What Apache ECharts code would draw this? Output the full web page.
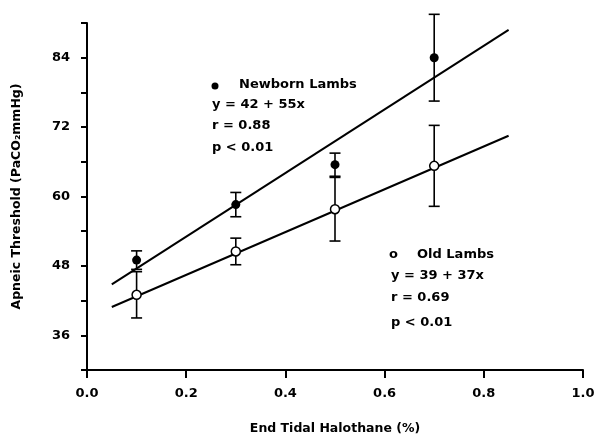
<!DOCTYPE html>
<html>
<head>
<meta charset="utf-8">
<script src="https://cdn.jsdelivr.net/npm/echarts@6/dist/echarts.min.js"></script>
<style>
  html, body { margin: 0; padding: 0; background: #fff; }
  #chart { width: 595px; height: 436px; }
</style>
</head>
<body>
<div id="chart"></div>
<script>
// halothane levels
var halothane = [0.1, 0.3, 0.5, 0.7];
// newborn lambs: mean and +/- bar
var newbornMean = [49.0, 58.6, 65.5, 84.0];
var newbornErr = [1.6, 2.1, 2.0, 7.5];
// old lambs
var oldMean = [43.0, 50.5, 57.8, 65.3];
var oldErr = [4.0, 2.3, 5.5, 7.0];
// regression line end points
var newbornFit = [[0.05, 44.8], [0.85, 88.8]];
var oldFit = [[0.05, 40.9], [0.85, 70.5]];
var yLabels = [36, 48, 60, 72, 84];

var font = 'DejaVu Sans';

function pts(xs, ys) {
  return xs.map(function (x, i) { return [x, ys[i]]; });
}
function bars(xs, ys, es) {
  return xs.map(function (x, i) { return [x, ys[i] - es[i], ys[i] + es[i]]; });
}

// error bar with caps
function renderBar(params, api) {
  var lo = api.coord([api.value(0), api.value(1)]);
  var hi = api.coord([api.value(0), api.value(2)]);
  var w = 5.5;
  var st = { stroke: '#000', lineWidth: 1.6 };
  return {
    type: 'group',
    children: [
      { type: 'line', shape: { x1: lo[0], y1: lo[1], x2: hi[0], y2: hi[1] }, style: st },
      { type: 'line', shape: { x1: lo[0] - w, y1: lo[1], x2: lo[0] + w, y2: lo[1] }, style: st },
      { type: 'line', shape: { x1: hi[0] - w, y1: hi[1], x2: hi[0] + w, y2: hi[1] }, style: st }
    ]
  };
}

var txt = { fontFamily: font, fontWeight: 'bold', fontSize: 13, fill: '#000' };
function t(x, y, s) {
  return { type: 'text', left: x, top: y, style: Object.assign({ text: s }, txt) };
}

var chart = echarts.init(document.getElementById('chart'));
chart.setOption({
  backgroundColor: '#fff',
  animation: false,
  grid: { left: 87, right: 12, top: 23, bottom: 66, outerBoundsMode: 'none', containLabel: false },
  xAxis: {
    type: 'value',
    min: 0, max: 1, interval: 0.2,
    name: 'End Tidal Halothane (%)',
    nameLocation: 'middle',
    nameGap: 52,
    nameTextStyle: { fontFamily: font, fontWeight: 'bold', fontSize: 12.5, color: '#000' },
    axisLine: { lineStyle: { color: '#000', width: 2 } },
    axisTick: { length: 8, lineStyle: { color: '#000', width: 2 } },
    axisLabel: {
      margin: 17, fontFamily: font, fontWeight: 'bold', fontSize: 13, color: '#000',
      formatter: function (v) { return v.toFixed(1); }
    },
    splitLine: { show: false }
  },
  yAxis: {
    type: 'value',
    min: 30, max: 90, interval: 6,
    name: 'Apneic Threshold (PaCO\u2082mmHg)',
    nameLocation: 'middle',
    nameGap: 64,
    nameTextStyle: { fontFamily: font, fontWeight: 'bold', fontSize: 12.5, color: '#000' },
    axisLine: { lineStyle: { color: '#000', width: 2 } },
    axisTick: { length: 6, lineStyle: { color: '#000', width: 2 } },
    axisLabel: {
      margin: 17, fontFamily: font, fontWeight: 'bold', fontSize: 13, color: '#000',
      formatter: function (v) { return yLabels.indexOf(v) >= 0 ? String(v) : ''; }
    },
    splitLine: { show: false }
  },
  graphic: [
    { type: 'circle', shape: { cx: 215, cy: 86, r: 3.5 }, style: { fill: '#000' } },
    t(239, 78, 'Newborn Lambs'),
    t(212, 98, 'y = 42 + 55x'),
    t(212, 119, 'r = 0.88'),
    t(212, 141, 'p < 0.01'),
    t(389, 248, 'o'),
    t(417, 248, 'Old Lambs'),
    t(391, 269, 'y = 39 + 37x'),
    t(391, 291, 'r = 0.69'),
    t(391, 316, 'p < 0.01')
  ],
  series: [
    {
      type: 'line', data: newbornFit, symbol: 'none', z: 2,
      lineStyle: { color: '#000', width: 2 }
    },
    {
      type: 'line', data: oldFit, symbol: 'none', z: 2,
      lineStyle: { color: '#000', width: 2 }
    },
    { type: 'custom', data: bars(halothane, newbornMean, newbornErr), renderItem: renderBar, z: 3 },
    { type: 'custom', data: bars(halothane, oldMean, oldErr), renderItem: renderBar, z: 3 },
    {
      type: 'scatter', data: pts(halothane, newbornMean), symbol: 'circle', symbolSize: 9, z: 4,
      itemStyle: { color: '#000', opacity: 1 }
    },
    {
      type: 'scatter', data: pts(halothane, oldMean), symbol: 'circle', symbolSize: 9, z: 4,
      itemStyle: { color: '#fff', borderColor: '#000', borderWidth: 1.5, opacity: 1 }
    }
  ]
});
</script>
</body>
</html>
